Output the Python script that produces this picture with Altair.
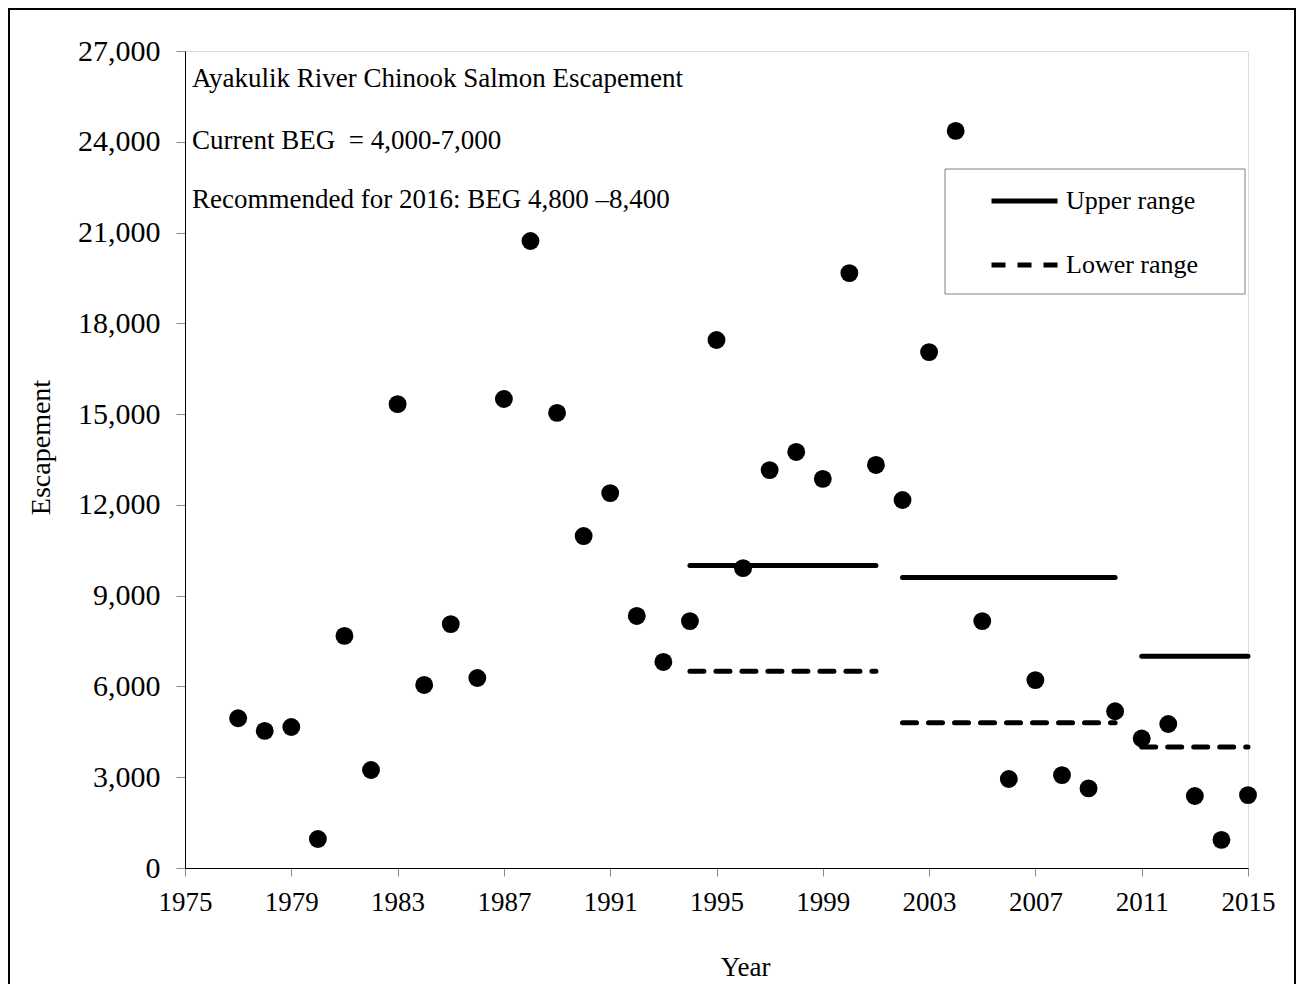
import altair as alt
import pandas as pd

# ---- data ----
years = list(range(1977, 2016))
escapement = [4950, 4530, 4660, 960, 7670, 3240, 15330, 6050, 8060, 6280,
              15500, 20720, 15040, 10970, 12390, 8330, 6810, 8160, 17450, 9910,
              13150, 13750, 12860, 19660, 13320, 12160, 17050, 24360, 8160, 2940,
              6210, 3070, 2630, 5180, 4280, 4760, 2380, 930, 2410]

period_start = [1994, 2002, 2011]
period_end = [2001, 2010, 2015]
upper_range = [10000, 9600, 7000]
lower_range = [6500, 4800, 4000]

notes = ["Ayakulik River Chinook Salmon Escapement",
         "Current BEG \u00a0= 4,000-7,000",
         "Recommended for 2016: BEG 4,800 \u20138,400"]

FONT = "Liberation Serif"
W, H = 1063, 817

pts = pd.DataFrame({"Year": years, "Escapement": escapement})

rows = []
for i, (s, e) in enumerate(zip(period_start, period_end)):
    for yr in (s, e):
        rows.append({"Year": yr, "Escapement": upper_range[i], "Series": "Upper range", "Period": i})
        rows.append({"Year": yr, "Escapement": lower_range[i], "Series": "Lower range", "Period": i})
ranges = pd.DataFrame(rows)

xscale = alt.Scale(domain=[1975, 2015], nice=False, zero=False)
yscale = alt.Scale(domain=[0, 27000], nice=False)

xaxis = alt.Axis(values=list(range(1975, 2016, 4)), format="d", title="Year",
                 labelFont=FONT, labelFontSize=27, labelColor="black", labelPadding=13,
                 labelFlush=False, tickColor="#8c8c8c", tickSize=8, tickWidth=1,
                 domainColor="black", domainWidth=1, grid=False,
                 titleFont=FONT, titleFontSize=27, titleFontWeight="normal", titleColor="black",
                 titleX=560, titleY=99, titleBaseline="middle", titleAlign="center")
yaxis = alt.Axis(values=list(range(0, 27001, 3000)), format=",d", title="Escapement",
                 labelFont=FONT, labelFontSize=30, labelColor="black", labelPadding=16,
                 labelFlush=False, tickColor="#8c8c8c", tickSize=9, tickWidth=1,
                 domainColor="black", domainWidth=1, grid=False,
                 titleFont=FONT, titleFontSize=28, titleFontWeight="normal", titleColor="black",
                 titleX=-144, titleY=396, titleBaseline="middle", titleAlign="center", titleAngle=-90)

points = alt.Chart(pts).mark_circle(size=320, color="black", opacity=1).encode(
    x=alt.X("Year:Q", scale=xscale, axis=xaxis),
    y=alt.Y("Escapement:Q", scale=yscale, axis=yaxis),
)

lines = alt.Chart(ranges).mark_line(color="black", strokeWidth=5, strokeCap="round").encode(
    x=alt.X("Year:Q", scale=xscale),
    y=alt.Y("Escapement:Q", scale=yscale),
    detail="Period:N",
    strokeDash=alt.StrokeDash(
        "Series:N",
        scale=alt.Scale(domain=["Upper range", "Lower range"], range=[[1, 0], [14, 12]]),
        legend=alt.Legend(title=None, orient="none", legendX=804, legendY=114.5,
                          symbolType="stroke", symbolSize=4356, symbolStrokeWidth=5,
                          symbolStrokeColor="black", labelFont=FONT, labelFontSize=26,
                          labelColor="black", labelOffset=6, rowPadding=15, padding=0),
    ),
)

one = pd.DataFrame({"k": [0]})

legend_box = alt.Chart(one).mark_rect(
    fill="white", stroke="#808080", strokeWidth=1
).encode(x=alt.value(760), x2=alt.value(1060), y=alt.value(118), y2=alt.value(243))

frame = alt.Chart(one).mark_rect(
    fill=None, stroke="black", strokeWidth=2, clip=False
).encode(x=alt.value(-176), x2=alt.value(1110), y=alt.value(-42), y2=alt.value(1100))

note_y = [36, 98, 157]
text_layers = [
    alt.Chart(one).mark_text(font=FONT, fontSize=27, color="black", align="left",
                             baseline="alphabetic").encode(
        x=alt.value(7), y=alt.value(py), text=alt.value(t))
    for t, py in zip(notes, note_y)
]

chart = alt.layer(frame, legend_box, lines, points, *text_layers).properties(
    width=W, height=H,
    autosize=alt.AutoSizeParams(type="none"),
    padding={"left": 177, "top": 43, "right": 48, "bottom": 116},
).configure_view(stroke=None).configure(background="white")

chart.save("out.html", embed_options={"renderer": "svg", "actions": False})
